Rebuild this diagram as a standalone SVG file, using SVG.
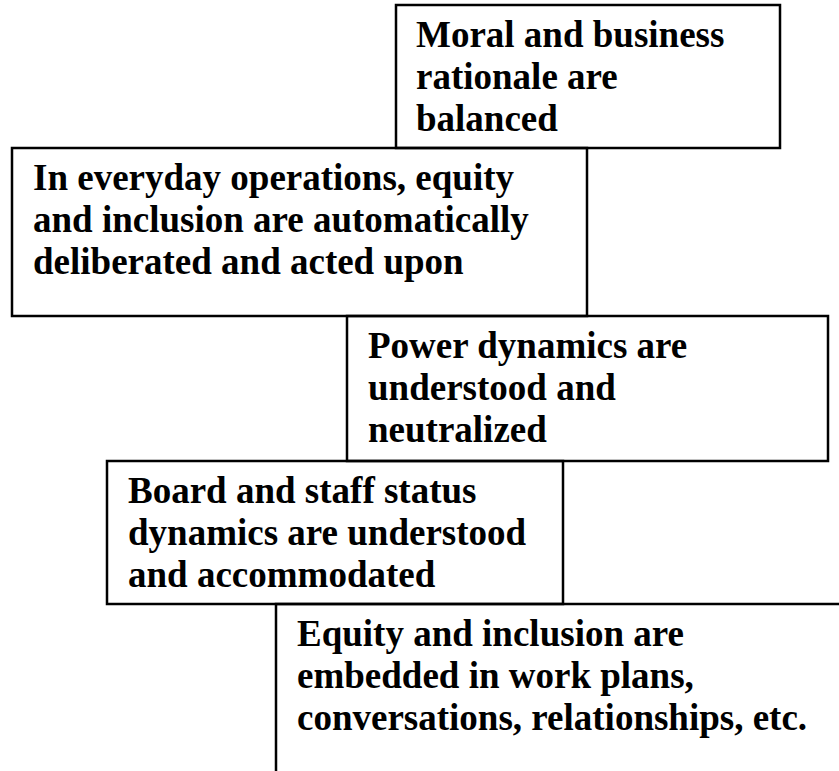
<svg xmlns="http://www.w3.org/2000/svg" width="839" height="771" viewBox="0 0 839 771">
<style>
.box{fill:none;stroke:#000;stroke-width:2.5}
.t{font-family:"Liberation Serif","Times New Roman",serif;font-weight:bold;font-size:37px;fill:#000}
</style>
<rect width="839" height="771" fill="#fff"/>
<g id="connectors"></g>
<g id="node1">
<rect class="box" x="396" y="5" width="384" height="143"/>
<text class="t" x="416"><tspan x="416" y="47">Moral and business</tspan><tspan x="416" y="89">rationale are</tspan><tspan x="416" y="131">balanced</tspan></text>
</g>
<g id="node2">
<rect class="box" x="12" y="148" width="575" height="168"/>
<text class="t"><tspan x="33" y="190">In everyday operations, equity</tspan><tspan x="33" y="232">and inclusion are automatically</tspan><tspan x="33" y="274">deliberated and acted upon</tspan></text>
</g>
<g id="node3">
<rect class="box" x="347" y="316" width="481" height="145"/>
<text class="t"><tspan x="368" y="358">Power dynamics are</tspan><tspan x="368" y="400">understood and</tspan><tspan x="368" y="442">neutralized</tspan></text>
</g>
<g id="node4">
<rect class="box" x="107" y="461" width="456" height="143"/>
<text class="t"><tspan x="128" y="503">Board and staff status</tspan><tspan x="128" y="545">dynamics are understood</tspan><tspan x="128" y="587">and accommodated</tspan></text>
</g>
<g id="node5">
<rect class="box" x="276" y="604" width="600" height="200"/>
<text class="t"><tspan x="297" y="646">Equity and inclusion are</tspan><tspan x="297" y="688">embedded in work plans,</tspan><tspan x="297" y="730">conversations, relationships, etc.</tspan></text>
</g>
</svg>
